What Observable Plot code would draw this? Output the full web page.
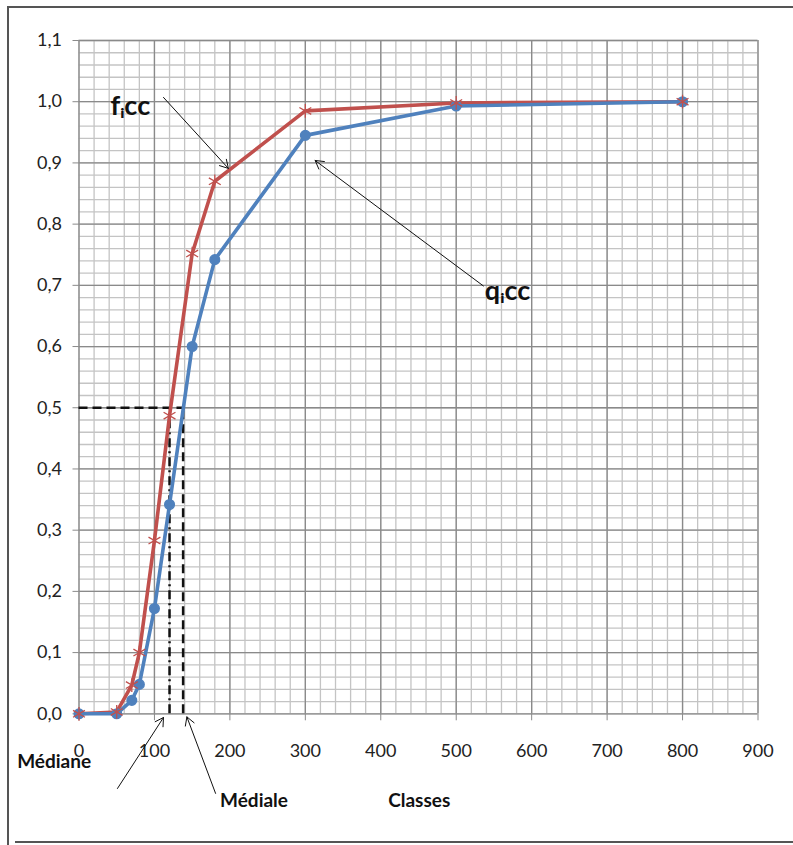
<!DOCTYPE html>
<html>
<head>
<meta charset="utf-8">
<script src="https://cdn.jsdelivr.net/npm/d3@7"></script>
<script src="https://cdn.jsdelivr.net/npm/@observablehq/plot@0.6"></script>
<style>
  html, body { margin: 0; padding: 0; background: #fff; }
  #wrap { position: relative; width: 793px; height: 845px; overflow: hidden; }
  .frame { position: absolute; background: #555; }
</style>
</head>
<body>
<div id="wrap">
  <div class="frame" style="left:7px;top:6px;width:786px;height:1.5px;"></div>
  <div class="frame" style="left:7px;top:6px;width:1.5px;height:839px;"></div>
  <div class="frame" style="left:15px;top:841px;width:778px;height:1.5px;"></div>
  <div id="chart" style="position:absolute;left:0;top:0;"></div>
</div>
<script>
// ---- data ----
const classes = [0, 50, 70, 80, 100, 120, 150, 180, 300, 500, 800];
const fcc = [0, 0.003, 0.047, 0.1, 0.283, 0.487, 0.752, 0.87, 0.985, 0.998, 1.0];
const qcc = [0, 0.0, 0.022, 0.048, 0.172, 0.342, 0.6, 0.742, 0.945, 0.993, 1.0];

const xTicks = [0, 100, 200, 300, 400, 500, 600, 700, 800, 900];
const yTicks = [0, 0.1, 0.2, 0.3, 0.4, 0.5, 0.6, 0.7, 0.8, 0.9, 1.0, 1.1];
const xMinorStep = 20;
const yMinorStep = 0.02;

const median = 120;
const mediale = 138;
const halfLevel = 0.5;

const labels = [
  {x: 68, y: 0.992, text: "f\u1D62cc", size: 27},
  {x: 568, y: 0.69, text: "q\u1D62cc", size: 27},
  {x: -33, y: -0.078, text: "Médiane", size: 19},
  {x: 232, y: -0.142, text: "Médiale", size: 19},
  {x: 451, y: -0.142, text: "Classes", size: 19}
];
const arrows = [
  {x1: 112, y1: 1.007, x2: 198, y2: 0.891},
  {x1: 536, y1: 0.699, x2: 313, y2: 0.904},
  {x1: 51, y1: -0.122, x2: 112, y2: -0.006},
  {x1: 181, y1: -0.130, x2: 143, y2: -0.005}
];

// ---- build ----
const fData = classes.map((c, i) => ({x: c, y: fcc[i]}));
const qData = classes.map((c, i) => ({x: c, y: qcc[i]}));
const xMinor = d3.range(0, 900 + 1e-9, xMinorStep);
const yMinor = d3.range(0, 55 + 1).map(i => +(i * yMinorStep).toFixed(2));

const red = "#C0504D";
const blue = "#4F81BD";
const font = "Lato, 'Open Sans', sans-serif";

const chart = Plot.plot({
  width: 793,
  height: 845,
  marginLeft: 78.5,
  marginRight: 35.5,
  marginTop: 40,
  marginBottom: 131.7,
  style: {fontFamily: font, background: "transparent", color: "#222"},
  x: {domain: [0, 900], axis: null},
  y: {domain: [0, 1.1], axis: null},
  marks: [
    Plot.ruleX(xMinor, {stroke: "#c4c4c4", strokeWidth: 1.3}),
    Plot.ruleY(yMinor, {stroke: "#c4c4c4", strokeWidth: 1.3}),
    Plot.ruleX(xTicks, {stroke: "#8a8a8a", strokeWidth: 1.3}),
    Plot.ruleY(yTicks, {stroke: "#8a8a8a", strokeWidth: 1.3}),
    Plot.axisY(yTicks, {
      tickSize: 6, tickPadding: 11, fontSize: 18, stroke: "#8a8a8a",
      tickFormat: d => d.toFixed(1).replace(".", ","), label: null
    }),
    Plot.axisX(xTicks, {
      tickSize: 7, tickPadding: 23, fontSize: 18, stroke: "#8a8a8a",
      tickFormat: d => String(d), label: null
    }),
    // median / mediale guides
    Plot.ruleY([halfLevel], {x1: 0, x2: mediale, stroke: "#111", strokeWidth: 2.5, strokeDasharray: "9,5"}),
    Plot.ruleX([median], {y1: 0, y2: halfLevel, stroke: "#111", strokeWidth: 2.5, strokeDasharray: "9,4,2,4"}),
    Plot.ruleX([mediale], {y1: 0, y2: halfLevel, stroke: "#111", strokeWidth: 2.5, strokeDasharray: "9,5"}),
    // series
    Plot.line(fData, {x: "x", y: "y", stroke: red, strokeWidth: 3.6}),
    Plot.line(qData, {x: "x", y: "y", stroke: blue, strokeWidth: 3.6}),
    Plot.dot(qData, {x: "x", y: "y", r: 4.8, fill: blue, stroke: blue}),
    Plot.dot(fData, {x: "x", y: "y", r: 6.5, symbol: "asterisk", stroke: red, strokeWidth: 1.3}),
    // annotations
    Plot.arrow(arrows, {x1: "x1", y1: "y1", x2: "x2", y2: "y2", stroke: "#111", strokeWidth: 1, headLength: 14, bend: 0}),
    Plot.text(labels, {x: "x", y: "y", text: "text", fontSize: d => d.size, fontWeight: "bold", fill: "#111", fontFamily: font})
  ]
});
document.getElementById("chart").appendChild(chart);
</script>
</body>
</html>
